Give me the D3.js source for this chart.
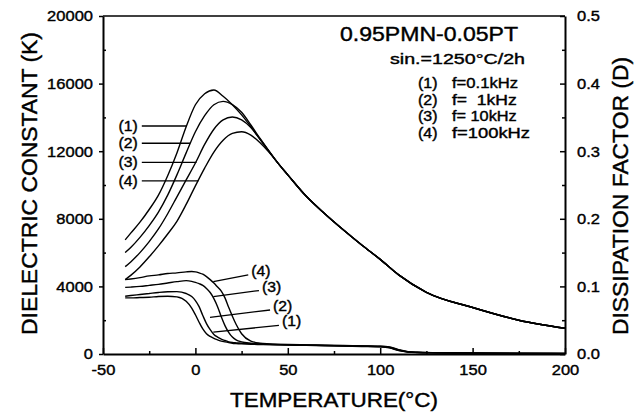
<!DOCTYPE html>
<html><head><meta charset="utf-8">
<script src="https://cdn.jsdelivr.net/npm/d3@7"></script>
<style>
body{margin:0;background:#fff}
svg{display:block}
text{font-family:"Liberation Sans",Arial,Helvetica,sans-serif;fill:#000;stroke:#000;stroke-width:0.4px}
</style>
</head><body>
<svg id="c" width="641" height="413"></svg>
<script>
// ---------- data ----------
const tempK = [-38,-35,-30,-25,-20,-15,-10,-5,0,5,10,15,20,25,30,35,40,45,50,60,70,80,90,100,110,125,150,175,200];
const kTail = [11250,10600,9330,8300,7350,6450,5600,4680,3650,2750,2000,1520];
const k1 = [6750,7150,7800,8550,9400,10550,11900,13450,14750,15400,15620,15250,14750,14150,13450,12700,11960].concat(kTail);
const k2 = [6000,6300,6900,7600,8400,9400,10600,11900,13150,14100,14750,14950,14750,14300,13550,12750,11980].concat(kTail);
const k3 = [5170,5450,6000,6650,7400,8300,9300,10300,11300,12400,13300,13850,14020,13850,13400,12700,11980].concat(kTail);
const k4 = [4400,4650,5150,5750,6400,7100,7850,8850,9950,11000,11950,12650,13050,13150,12950,12500,11920].concat(kTail);

const tempD = [-38,-35,-30,-25,-20,-15,-10,-5,-2,0,2,4,6,8,10,12,14,16,18,20,22,25,30,35,40,50,60,70,80,90,100,105,110,115,120,130,150,175,200];
const diss1 = [.083,.083,.0835,.084,.085,.0855,.0845,.078,.068,.058,.047,.037,.030,.026,.023,.021,.019,.018,.017,.016,.0155,.015,.0145,.014,.0138,.0132,.0128,.0122,.0118,.0112,.0105,.009,.005,.0028,.002,.0015,.001,.0006,.0005];
const diss2 = [.0855,.0865,.088,.0895,.091,.092,.0922,.0895,.085,.079,.070,.057,.045,.036,.029,.025,.022,.020,.018,.017,.0165,.016,.015,.0145,.014,.0135,.013,.0125,.012,.0115,.011,.0095,.0055,.003,.0023,.0018,.0012,.0008,.0006];
const diss3 = [.0985,.099,.100,.1015,.103,.105,.107,.1085,.1075,.106,.104,.1015,.097,.091,.082,.070,.055,.042,.032,.025,.021,.018,.016,.015,.0145,.0138,.0133,.0128,.0122,.0118,.0112,.0100,.006,.0033,.0025,.002,.0014,.001,.0008];
const diss4 = [.110,.111,.113,.1155,.117,.119,.120,.1215,.122,.1215,.120,.118,.1145,.110,.105,.099,.093,.083,.069,.056,.044,.030,.019,.016,.015,.014,.0135,.013,.0125,.012,.0115,.0105,.0065,.0035,.0027,.002,.0015,.001,.001];

const xTicks = [-50,0,50,100,150,200];
const xMinor = [-25,25,75,125,175];
const kTicks = [0,4000,8000,12000,16000,20000];
const kMinor = [2000,6000,10000,14000,18000];
const dTicks = [0,0.1,0.2,0.3,0.4,0.5];
const dMinor = [0.05,0.15,0.25,0.35,0.45];
const seriesLabels = ["(1)","(2)","(3)","(4)"];
const freqLabels = ["f=0.1kHz","f=  1kHz","f= 10kHz","f=100kHz"];
const titleText = "0.95PMN-0.05PT";
const subText = "sin.=1250°C/2h";

// annotation anchors (data units)
const kLeaderStartT = -29;
const kLeaderEndT = [-4.7,-2.9,0.6,1.6];
const kLeaderK = [13490,12470,11340,10240];
const dLeaderStart = [[9.7,0.0325],[7.9,0.0543],[9.7,0.0848],[9.7,0.107]];
const dLeaderEnd = [[45.2,0.0422],[40.4,0.0651],[34.4,0.0939],[28.6,0.1169]];

// ---------- chart ----------
const svg = d3.select("#c");
const L=103, R=565, T=16, B=354;
const x = d3.scaleLinear().domain([-50,200]).range([L,R]);
const yK = d3.scaleLinear().domain([0,20000]).range([B,T]);
const yD = d3.scaleLinear().domain([0,0.5]).range([B,T]);

function stretch(sel,f){sel.each(function(){const w=this.getComputedTextLength();d3.select(this).attr("textLength",w*f).attr("lengthAdjust","spacingAndGlyphs");});}
function fit(sel,w){sel.attr("textLength",w).attr("lengthAdjust","spacingAndGlyphs");}
const plain = d => String(d);

// curves
const lineK = d3.line().x(d=>x(d[0])).y(d=>yK(d[1])).curve(d3.curveMonotoneX);
const lineD = d3.line().x(d=>x(d[0])).y(d=>yD(d[1])).curve(d3.curveMonotoneX);
[k1,k2,k3,k4].forEach(s=>{
  svg.append("path").attr("d",lineK(tempK.map((t,i)=>[t,s[i]]))).attr("fill","none").attr("stroke","#000").attr("stroke-width",1.4);
});
[diss1,diss2,diss3,diss4].forEach(s=>{
  svg.append("path").attr("d",lineD(tempD.map((t,i)=>[t,s[i]]))).attr("fill","none").attr("stroke","#000").attr("stroke-width",1.4);
});

// axes
function styleAxis(g,w){g.selectAll(".domain").attr("stroke","#000").attr("stroke-width",w);g.selectAll(".tick line").attr("stroke","#000").attr("stroke-width",1.5);}
const gL = svg.append("g").attr("transform",`translate(${L},0)`)
  .call(d3.axisLeft(yK).tickValues(kTicks).tickSize(4).tickSizeOuter(0).tickPadding(6).tickFormat(plain));
styleAxis(gL,2);
gL.selectAll("text").attr("font-size",15).attr("font-family",null);
stretch(gL.selectAll("text"),1.1);
const gLm = svg.append("g").attr("transform",`translate(${L},0)`)
  .call(d3.axisLeft(yK).tickValues(kMinor).tickSize(-3).tickFormat(""));
gLm.select(".domain").remove(); styleAxis(gLm,2);

const gB = svg.append("g").attr("transform",`translate(0,${B})`)
  .call(d3.axisBottom(x).tickValues(xTicks).tickSize(-6).tickSizeOuter(0).tickPadding(10).tickFormat(plain));
styleAxis(gB,2);
gB.selectAll("text").attr("font-size",15).attr("font-family",null);
stretch(gB.selectAll("text"),1.1);
const gBm = svg.append("g").attr("transform",`translate(0,${B})`)
  .call(d3.axisBottom(x).tickValues(xMinor).tickSize(-3).tickFormat(""));
gBm.select(".domain").remove(); styleAxis(gBm,2);

const gR = svg.append("g").attr("transform",`translate(${R},0)`)
  .call(d3.axisRight(yD).tickValues(dTicks).tickSize(-5).tickSizeOuter(0).tickPadding(12).tickFormat(d3.format(".1f")));
styleAxis(gR,2);
gR.selectAll("text").attr("font-size",15).attr("font-family",null);
stretch(gR.selectAll("text"),1.1);
const gRm = svg.append("g").attr("transform",`translate(${R},0)`)
  .call(d3.axisRight(yD).tickValues(dMinor).tickSize(-3).tickFormat(""));
gRm.select(".domain").remove(); styleAxis(gRm,2);

// top frame
svg.append("line").attr("x1",L).attr("x2",R).attr("y1",T).attr("y2",T).attr("stroke","#000").attr("stroke-width",1.5);

// axis titles
fit(svg.append("text").attr("x",230).attr("y",406.5).attr("font-size",20).text("TEMPERATURE(°C)"),208);
fit(svg.append("text").attr("transform","translate(37,183.5) rotate(-90)").attr("text-anchor","middle").attr("font-size",21.5).text("DIELECTRIC CONSTANT (K)"),303);
fit(svg.append("text").attr("transform","translate(628,196) rotate(-90)").attr("text-anchor","middle").attr("font-size",21.5).text("DISSIPATION FACTOR (D)"),278);

// title / legend
fit(svg.append("text").attr("x",340).attr("y",40.5).attr("font-size",19.5).text(titleText),178);
fit(svg.append("text").attr("x",390).attr("y",64).attr("font-size",15).text(subText),135);
const legW = [66,64.7,64.7,78];
const legY = [88,104.5,121,137.5];
seriesLabels.forEach((s,i)=>{
  stretch(svg.append("text").attr("x",418).attr("y",legY[i]).attr("font-size",14.5).text(s),1.1);
  fit(svg.append("text").attr("x",452).attr("y",legY[i]).attr("font-size",14.5).style("white-space","pre").text(freqLabels[i]),legW[i]);
});

// K leader labels
seriesLabels.forEach((s,i)=>{
  svg.append("line").attr("x1",x(kLeaderStartT)).attr("x2",x(kLeaderEndT[i]))
    .attr("y1",yK(kLeaderK[i])).attr("y2",yK(kLeaderK[i])).attr("stroke","#000").attr("stroke-width",1.3);
  stretch(svg.append("text").attr("x",x(kLeaderStartT)-4).attr("y",yK(kLeaderK[i])+5).attr("text-anchor","end").attr("font-size",15).text(s),1.05);
});
// D leader labels
seriesLabels.forEach((s,i)=>{
  svg.append("line").attr("x1",x(dLeaderStart[i][0])).attr("y1",yD(dLeaderStart[i][1]))
    .attr("x2",x(dLeaderEnd[i][0])).attr("y2",yD(dLeaderEnd[i][1])).attr("stroke","#000").attr("stroke-width",1.3);
  stretch(svg.append("text").attr("x",x(dLeaderEnd[i][0])+3).attr("y",yD(dLeaderEnd[i][1])+1).attr("font-size",15).text(s),1.05);
});
</script>
</body></html>
